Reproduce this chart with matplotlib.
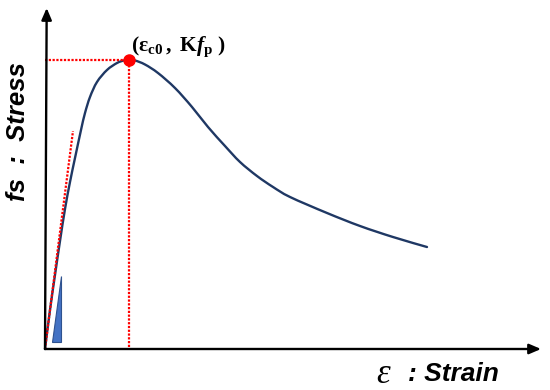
import matplotlib
matplotlib.use("Agg")
import matplotlib.pyplot as plt
from matplotlib.patches import Polygon, PathPatch
from matplotlib.path import Path

plt.rcParams['mathtext.fontset'] = 'custom'
plt.rcParams['mathtext.rm'] = 'Liberation Serif:bold'
plt.rcParams['mathtext.it'] = 'Liberation Serif:italic:bold'
plt.rcParams['mathtext.bf'] = 'Liberation Serif:bold'

# normalised strain (eps / eps_c0) and stress (fs / K fp)
strain = [0.0, 0.0595, 0.1190, 0.1786, 0.2381, 0.2976, 0.3571, 0.4286, 0.4762,
          0.5357, 0.6190, 0.7381, 0.8571, 0.9405, 1.0, 1.0714, 1.1905, 1.3452,
          1.5476, 1.75, 1.9405, 2.1429, 2.3214, 2.5238, 2.7143, 2.9167, 3.3571,
          3.75, 4.1429, 4.5476]
stress = [0.0, 0.1349, 0.2561, 0.3737, 0.4844, 0.5779, 0.6609, 0.7578, 0.8166,
          0.8720, 0.9239, 0.9654, 0.9896, 0.9983, 1.0, 0.9983, 0.9844, 0.9550,
          0.9031, 0.8374, 0.7682, 0.7024, 0.6471, 0.5986, 0.5606, 0.5260, 0.4706,
          0.4256, 0.3875, 0.3529]
peak = (1.0, 1.0)
tangent_x = [0.0, 0.333]
tangent_y = [0.0, 0.754]
tri_x = [0.083, 0.190, 0.190]
tri_y = [0.024, 0.024, 0.253]

fig = plt.figure(figsize=(5.5, 3.9), dpi=100)
ax = fig.add_axes([0, 0, 1, 1])
ax.set_xlim(-45/84, 505/84)
ax.set_ylim(-41/289, 349/289)
ax.axis('off')

# axes with arrows
arrow = dict(arrowstyle='-|>,head_length=0.7,head_width=0.3',
             color='black', lw=1.7, shrinkA=0, shrinkB=0)
ax.annotate('', xy=(0.02, 1.18), xytext=(0, 0), arrowprops=arrow)
ax.annotate('', xy=(5.905, 0), xytext=(0, 0), arrowprops=arrow)

# dotted guides
dot = dict(color='red', lw=1.6, dashes=(1.0, 0.7), dash_capstyle='butt')
ax.plot([0, peak[0]], [peak[1], peak[1]], **dot)
ax.plot([peak[0], peak[0]], [0.007, peak[1]], **dot)
ax.plot(tangent_x, tangent_y, **dot)

# smooth curve through the read points (Catmull-Rom as cubic Bezier)
pts = list(zip(strain, stress))
verts = [pts[0]]
codes = [Path.MOVETO]
n = len(pts)
for i in range(n - 1):
    p0 = pts[i - 1] if i > 0 else pts[i]
    p1 = pts[i]
    p2 = pts[i + 1]
    p3 = pts[i + 2] if i + 2 < n else pts[i + 1]
    c1 = (p1[0] + (p2[0] - p0[0]) / 6, p1[1] + (p2[1] - p0[1]) / 6)
    c2 = (p2[0] - (p3[0] - p1[0]) / 6, p2[1] - (p3[1] - p1[1]) / 6)
    verts += [c1, c2, p2]
    codes += [Path.CURVE4] * 3
ax.add_patch(PathPatch(Path(verts, codes), facecolor='none',
                       edgecolor='#1F3864', lw=1.7, capstyle='round'))
ax.plot([peak[0]], [peak[1]], 'o', color='red', ms=8, zorder=5)

# triangle
ax.add_patch(Polygon(list(zip(tri_x, tri_y)), closed=True,
                     facecolor='#4472C4', edgecolor='#2F528F', lw=0.8))

# labels
ax.text(-0.321, 0.751, 'fs  :  Stress', rotation=90, ha='center', va='center',
        fontsize=18.5, fontweight='bold', fontstyle='italic', family='Liberation Sans')
ax.text(4.02, -0.088, 'ε', ha='center', va='center', fontsize=25,
        fontstyle='italic', family='Liberation Serif')
ax.text(4.32, -0.085, ': Strain', ha='left', va='center', fontsize=19,
        fontweight='bold', fontstyle='italic', family='Liberation Sans')
ax.text(1.024, 1.045, r'$(\mathrm{ε}_{\mathrm{c0}}\,,\ \mathrm{K}\mathit{f}_{\mathrm{p}}\ )$',
        ha='left', va='center', fontsize=15.5)

fig.savefig('out.png', dpi=100)
